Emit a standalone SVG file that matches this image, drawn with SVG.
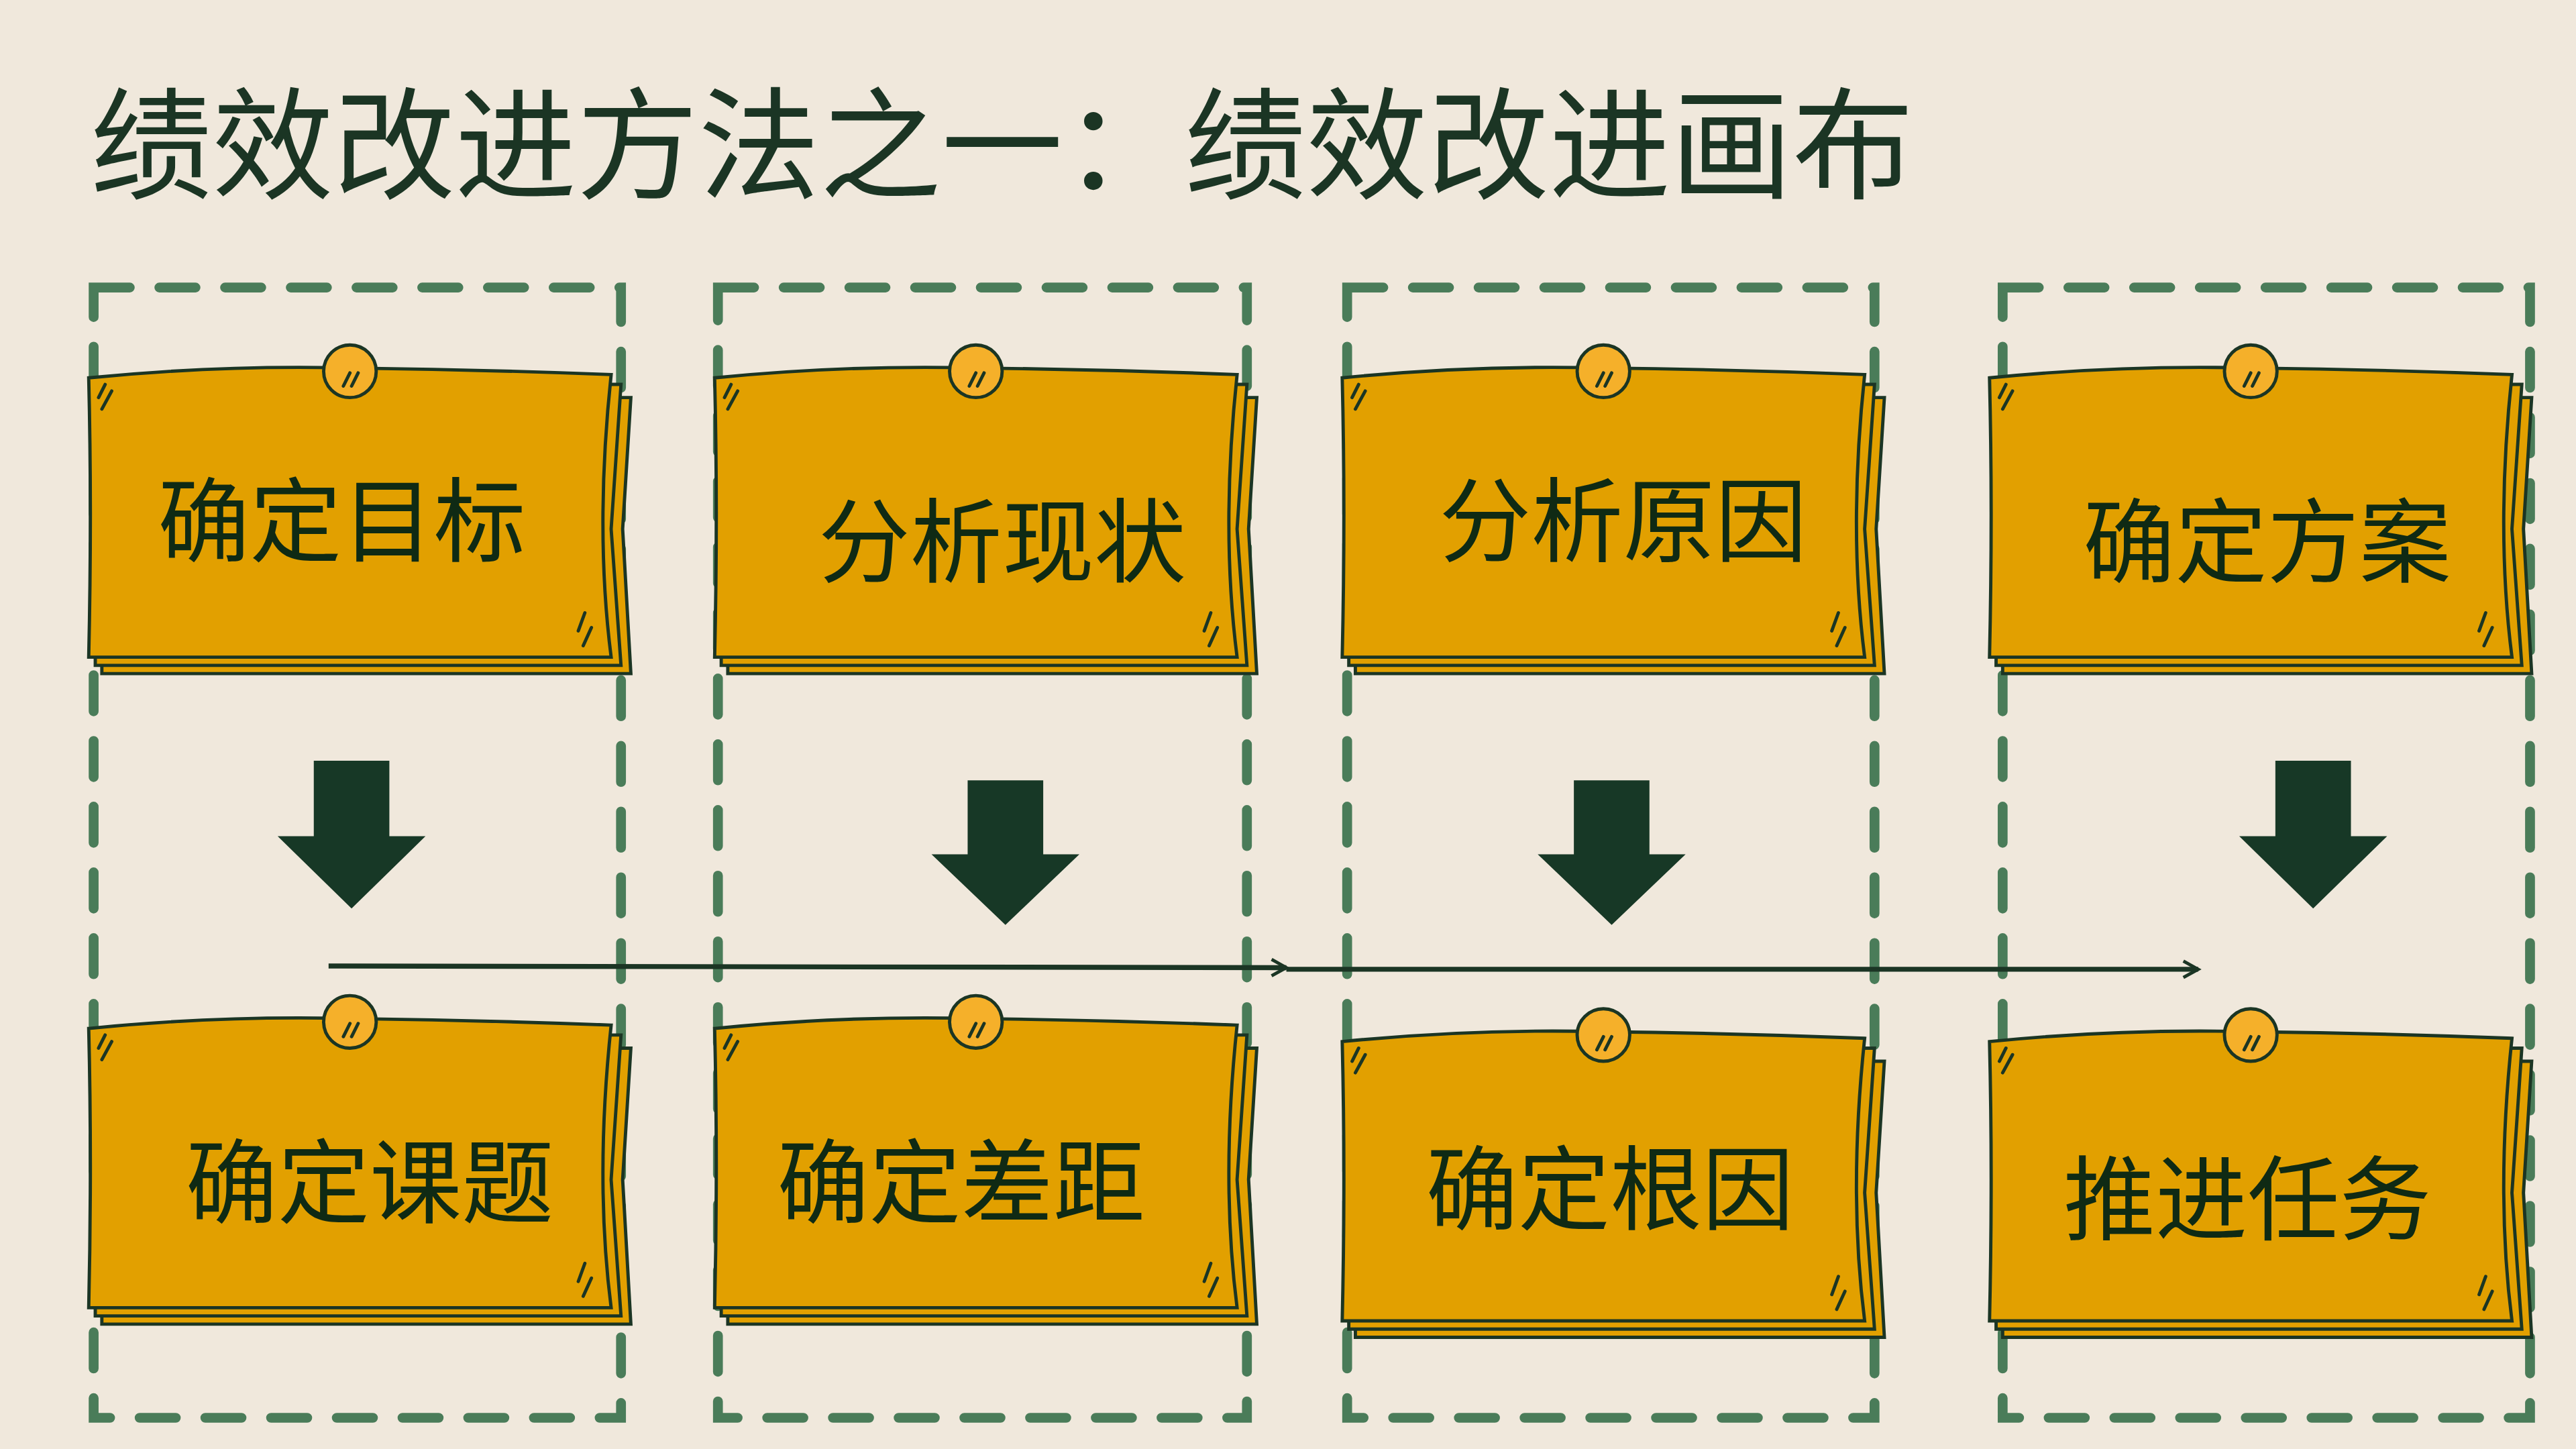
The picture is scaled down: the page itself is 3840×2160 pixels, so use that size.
<svg xmlns="http://www.w3.org/2000/svg" xmlns:xlink="http://www.w3.org/1999/xlink" width="3840" height="2160" viewBox="0 0 3840 2160">
<style>
.box{fill:none;stroke:#4a7c59;stroke-width:6;stroke-dasharray:22 18;stroke-linecap:round}
.sheet{fill:#e2a000;stroke:#1b3524;stroke-width:2}
.mark{stroke:#1b3524;stroke-width:2;fill:none;stroke-linecap:round}
.lbl{font-family:"Noto Sans CJK SC",sans-serif;font-size:56px;fill:#0f2a14;text-anchor:middle;dominant-baseline:central}
.title{font-family:"Noto Sans CJK SC",sans-serif;font-size:74px;fill:#1b3524}
.arr{fill:#173826}
.flow{stroke:#1b3524;stroke-width:3;fill:none}
</style>
<defs>
<g id="note">
<path class="sheet" d="M8,20 L330,20 L325,100 L330,188 L8,188 Z"/>
<path class="sheet" d="M4,12 L324,12 L318,100 L324,183 L4,183 Z"/>
<path class="sheet" d="M0,8 Q80,0 160,2 Q240,3 318,6 Q308,100 318,178 L0,178 Q2,90 0,8 Z"/>
<circle cx="159" cy="4" r="16" fill="#f5b02a" stroke="#1b3524" stroke-width="2"/>
<path class="mark" d="M155,13 L159,5 M160,13 L164,5 M6,20 L10,12 M8,27 L14,16 M298,162 L302,151 M301,171 L306,160"/>
</g>
<marker id="ah" markerWidth="12" markerHeight="12" refX="10" refY="6" orient="auto" markerUnits="userSpaceOnUse"><path d="M1,1 L10,6 L1,11" fill="none" stroke="#1b3524" stroke-width="2"/></marker>
</defs>
<rect width="3840" height="2160" fill="#f0e8dc"/>
<g transform="scale(2.449)">
<text class="title" x="55" y="115">绩效改进方法之一：绩效改进画布</text>
<g id="boxes">
<rect class="box" x="57" y="175" width="321" height="688"/>
<rect class="box" x="437" y="175" width="322" height="688"/>
<rect class="box" x="820" y="175" width="321" height="688"/>
<rect class="box" x="1219" y="175" width="321" height="688"/>
</g>
<g id="connectors">
<path class="arr" d="M191,463 H237 V509 H259 L214,553 L169,509 H191 Z"/>
<path class="arr" d="M589,475 H635 V520 H657 L612,563 L567,520 H589 Z"/>
<path class="arr" d="M958,475 H1004 V520 H1026 L981,563 L936,520 H958 Z"/>
<path class="arr" d="M1385,463 H1431 V509 H1453 L1408,553 L1363,509 H1385 Z"/>
<path class="flow" d="M200,588 L783,589" marker-end="url(#ah)"/>
<path class="flow" d="M783,590 L1338,590" marker-end="url(#ah)"/>
</g>
<g id="n1"><use xlink:href="#note" x="54" y="222"/><text class="lbl" x="208" y="313">确定目标</text></g>
<g id="n2"><use xlink:href="#note" x="435" y="222"/><text class="lbl" x="610" y="326">分析现状</text></g>
<g id="n3"><use xlink:href="#note" x="817" y="222"/><text class="lbl" x="988" y="313">分析原因</text></g>
<g id="n4"><use xlink:href="#note" x="1211" y="222"/><text class="lbl" x="1380" y="326">确定方案</text></g>
<g id="n5"><use xlink:href="#note" x="54" y="618"/><text class="lbl" x="225" y="716">确定课题</text></g>
<g id="n6"><use xlink:href="#note" x="435" y="618"/><text class="lbl" x="585" y="716">确定差距</text></g>
<g id="n7"><use xlink:href="#note" x="817" y="626"/><text class="lbl" x="980" y="720">确定根因</text></g>
<g id="n8"><use xlink:href="#note" x="1211" y="626"/><text class="lbl" x="1368" y="726">推进任务</text></g>
</g>
</svg>
